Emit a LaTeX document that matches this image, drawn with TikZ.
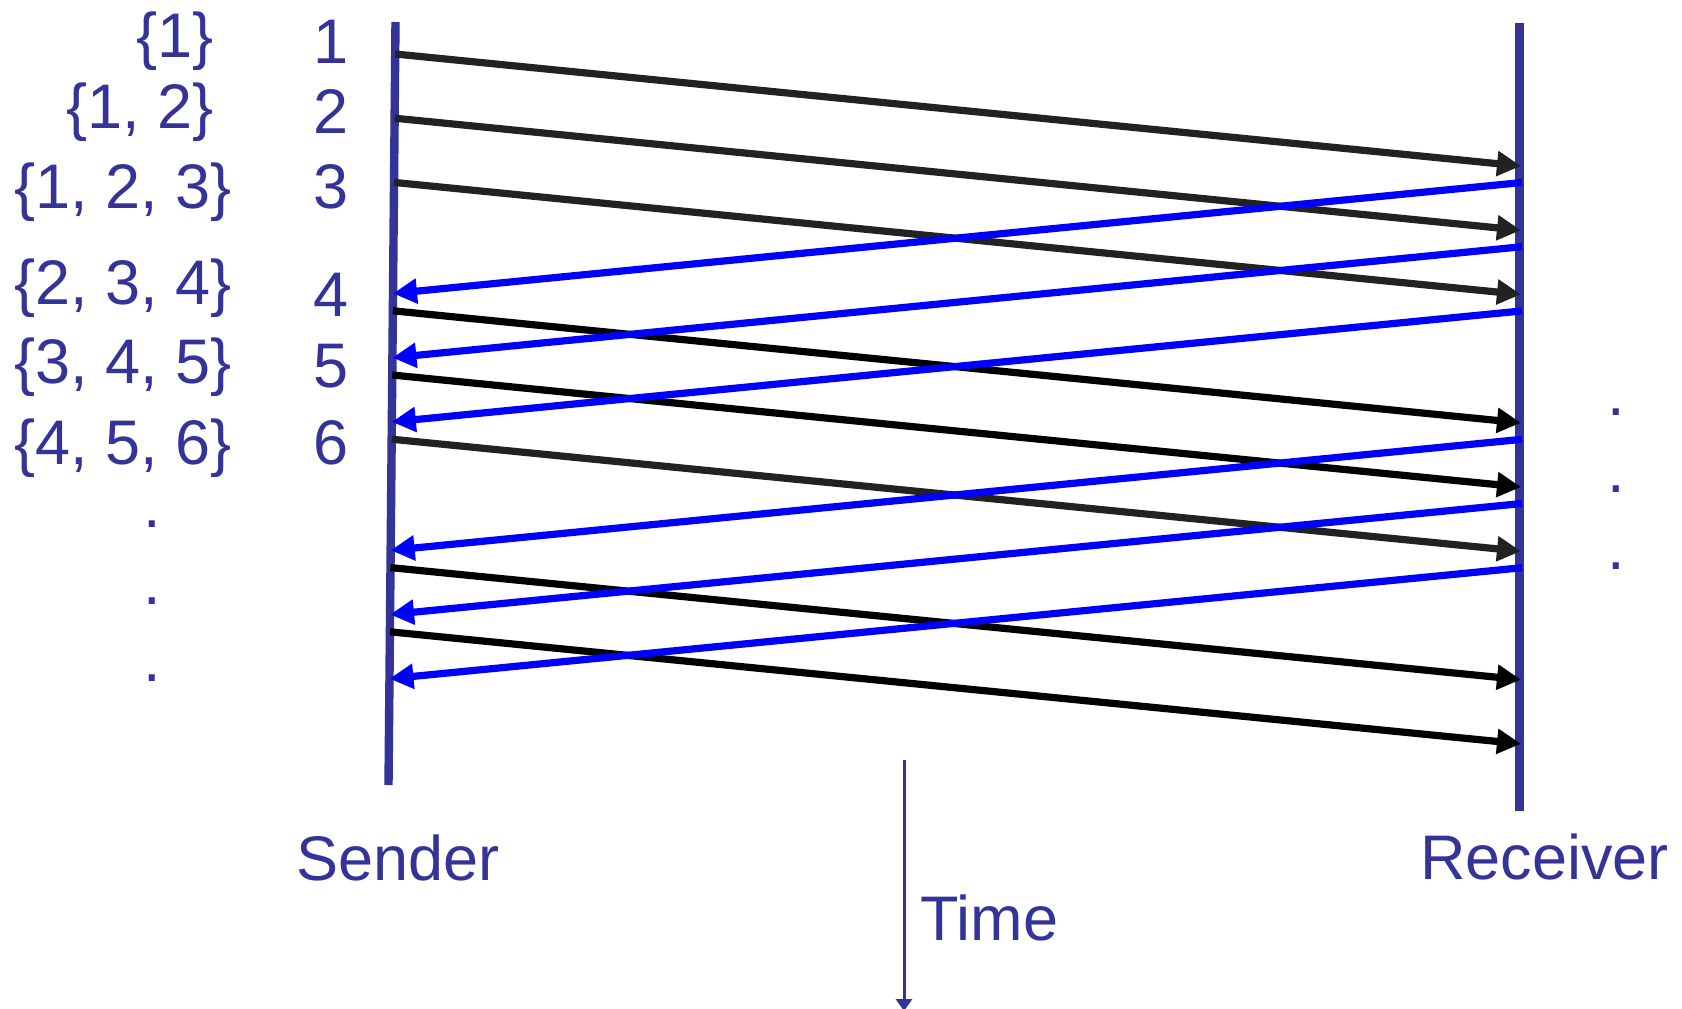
\documentclass[tikz,border=0pt]{standalone}
\usepackage{fontspec}
\setmainfont{Liberation Sans}
\usetikzlibrary{arrows.meta,calc}
\definecolor{lbl}{HTML}{333399}
\definecolor{ack}{HTML}{0000FF}
\definecolor{pktgray}{HTML}{222222}
\tikzset{
  lifeline/.style={draw=lbl, line width=4.2pt},
  pkt/.style={line width=3.6pt, -{Triangle[length=12pt, width=12pt]}},
  txt/.style={text=lbl, font=\fontsize{31.5}{36}\selectfont, inner sep=0pt},
  timearrow/.style={draw=lbl, line width=1.5pt, -{Triangle[length=6pt, width=8pt]}},
}

\begin{document}
\begin{tikzpicture}[x=0.5pt, y=-0.5pt]
\useasboundingbox (0,0) rectangle (1682,1008);

% Lifelines.
\coordinate (sTop) at (395.5,22);
\coordinate (sBot) at (388.5,785);
\coordinate (rTop) at (1519.5,23);
\coordinate (rBot) at (1519.5,811);
\draw[lifeline] (sTop) -- (sBot);
\draw[lifeline] (rTop) -- (rBot);

% Data packets, sender to receiver.
\foreach \k/\c [count=\i] in {0/pktgray,1/pktgray,2/pktgray,4/black,5/black,6/pktgray,8/black,9/black}{
  \pgfmathsetmacro\ya{54+64.2*\k}
  \coordinate (d\i) at ($(sTop)!{(\ya-22)/763}!(sBot)$);
  \coordinate (e\i) at (1521,\ya+112);
  \draw[pkt, draw=\c, fill=\c] (d\i) -- (e\i);
}

% Acks, receiver to sender.
\foreach \k [count=\i] in {0,1,2,4,5,6}{
  \pgfmathsetmacro\yb{182.5+64.2*\k}
  \pgfmathsetmacro\yc{\yb+111}
  \coordinate (a\i) at (1522,\yb);
  \coordinate (b\i) at ($(sTop)!{(\yc-22)/763}!(sBot)$);
  \draw[pkt, draw=ack, fill=ack] (a\i) -- (b\i);
}

% Windows and sequence numbers.
\node[txt, anchor=base east] (w1) at (214,57) {\{1\}};
\node[txt, anchor=base east] (w2) at (214,128) {\{1, 2\}};
\node[txt, anchor=base west] (w3) at (14,208) {\{1, 2, 3\}};
\node[txt, anchor=base west] (w4) at (14,304) {\{2, 3, 4\}};
\node[txt, anchor=base west] (w5) at (14,383) {\{3, 4, 5\}};
\node[txt, anchor=base west] (w6) at (14,464) {\{4, 5, 6\}};

\foreach \n/\yy in {1/63,2/133,3/208,4/316,5/387,6/464}
  \node[txt, anchor=base] (n\n) at (331,\yy) {\n};

\foreach \yy [count=\i] in {527.6,604.6,681.6}
  \node[txt, anchor=base] (ldot\i) at (152.3,\yy) {.};
\foreach \yy [count=\i] in {415.6,492.6,569.3}
  \node[txt, anchor=base] (rdot\i) at (1616.7,\yy) {.};

\node[txt, anchor=base west] (sender) at (296,880) {Sender};
\node[txt, anchor=base west] (receiver) at (1420,879) {Receiver};

% Time axis.
\coordinate (tTop) at (904,760);
\coordinate (tBot) at (904,1011);
\draw[timearrow] (tTop) -- (tBot);
\node[txt, anchor=base west] (time) at (920,940) {Time};

\end{tikzpicture}
\end{document}
